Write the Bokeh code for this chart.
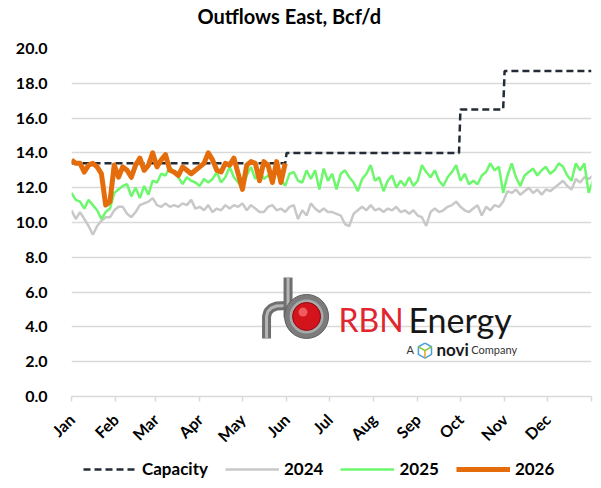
import math

from bokeh.core.properties import value
from bokeh.embed import file_html
from bokeh.layouts import column
from bokeh.models import FixedTicker, Legend, LegendItem, NumeralTickFormatter, Range1d
from bokeh.plotting import figure
from bokeh.resources import INLINE

# ---------------------------------------------------------------- data
month_labels = ["Jan", "Feb", "Mar", "Apr", "May", "Jun",
                "Jul", "Aug", "Sep", "Oct", "Nov", "Dec"]
month_start_day = [0, 31, 59, 90, 120, 151, 181, 212, 243, 273, 304, 334]
year_end_day = 365

# flows are sampled every 3 days from 1 January, Bcf/d
sample_step_days = 3

flow_2024 = [
    10.7, 10.2, 10.6, 10.2, 9.8, 9.3, 9.8, 10.1, 10.3, 10.3,
    10.7, 10.9, 10.9, 10.5, 10.3, 10.6, 11.0, 11.1, 11.2, 11.4,
    11.0, 10.9, 11.1, 10.9, 11.0, 10.9, 11.1, 11.0, 11.3, 10.8,
    10.9, 10.7, 11.0, 10.6, 10.8, 10.7, 11.0, 10.8, 11.0, 10.9,
    11.1, 10.7, 11.0, 10.8, 10.6, 10.6, 10.9, 11.0, 10.7, 10.8,
    10.6, 10.9, 11.0, 10.2, 10.7, 10.4, 11.1, 10.8, 10.6, 10.8,
    10.6, 10.6, 10.5, 10.4, 9.9, 9.8, 10.5, 10.7, 10.9, 10.7,
    11.0, 10.7, 10.8, 10.6, 10.8, 10.7, 10.9, 10.6, 10.7, 10.5,
    10.7, 10.4, 10.3, 9.8, 10.6, 10.8, 10.6, 10.7, 10.9, 11.0,
    11.2, 10.9, 10.7, 10.6, 10.8, 11.0, 10.4, 10.9, 10.7, 11.0,
    10.9, 11.2, 11.8, 11.7, 11.9, 11.6, 11.8, 12.0, 11.7, 11.9,
    11.6, 11.9, 11.8, 12.0, 12.2, 12.4, 12.1, 11.9, 12.5, 12.3,
    12.6, 12.5, 12.7,
]

flow_2025 = [
    11.7, 11.3, 11.2, 10.8, 11.3, 11.0, 10.7, 10.2, 10.6, 10.8,
    11.7, 11.9, 12.1, 12.2, 11.5, 12.0, 11.4, 12.1, 11.6, 12.4,
    12.3, 12.8, 12.7, 13.2, 12.9, 12.6, 12.2, 12.6, 12.4, 12.3,
    12.1, 12.5, 12.3, 12.5, 12.9, 12.3, 12.6, 13.2, 12.6, 12.3,
    12.0, 12.7, 13.2, 12.5, 13.0, 12.5, 12.7, 12.4, 13.0, 12.5,
    12.1, 12.8, 12.9, 12.4, 12.3, 13.0, 12.5, 13.0, 11.9, 13.1,
    12.4, 12.8, 11.9, 12.8, 13.0, 12.6, 12.3, 11.8, 12.5, 12.8,
    13.3, 12.4, 12.6, 11.8, 12.4, 12.7, 12.0, 12.4, 12.1, 12.6,
    12.1, 12.4, 13.3, 12.9, 12.6, 13.0, 12.4, 12.1, 12.6, 12.9,
    13.3, 12.4, 12.8, 12.2, 12.4, 12.2, 12.7, 12.9, 13.4, 13.0,
    13.2, 11.7, 12.7, 13.4, 12.6, 12.1, 12.7, 12.9, 13.1, 12.7,
    13.0, 13.2, 12.8, 13.0, 13.4, 13.2, 12.7, 12.4, 13.4, 13.0,
    13.4, 11.7, 12.4,
]

flow_2026 = [
    13.6, 13.4, 13.4, 12.9, 13.3, 13.4, 13.2, 12.8, 11.0, 11.2,
    13.3, 12.6, 13.2, 13.0, 12.6, 13.3, 13.7, 13.0, 13.3, 14.0,
    13.2, 13.6, 13.9, 13.0, 12.9, 12.7, 13.2, 13.0, 12.8, 13.0,
    13.2, 13.4, 14.0, 13.6, 13.0, 12.9, 13.4, 13.3, 13.7, 12.8,
    11.9, 13.3, 13.5, 13.4, 12.4, 13.5, 13.3, 12.3, 13.5, 12.3,
    13.4,
]

# pipeline capacity: first day of each level and the level, Bcf/d
capacity_change_day = [0, 151, 273, 304]
capacity_bcfd = [13.4, 14.0, 16.5, 18.7]

chart_title = "Outflows East, Bcf/d"

# ---------------------------------------------------------------- helpers
def sample_days(values):
    return [i * sample_step_days for i in range(len(values))]


def capacity_steps():
    xs, ys = [], []
    for i, (start, level) in enumerate(zip(capacity_change_day, capacity_bcfd)):
        end = capacity_change_day[i + 1] - 1 if i + 1 < len(capacity_change_day) else year_end_day
        xs += [start, end]
        ys += [level, level]
    return xs, ys


def strip(height, x_end):
    """An axis-less band of the page used for the heading and the key."""
    f = figure(
        width=601, height=height, output_backend="svg", toolbar_location=None,
        x_range=Range1d(0, x_end), y_range=Range1d(0, 1),
        min_border=0, outline_line_color=None,
    )
    f.axis.visible = False
    f.grid.visible = False
    return f


FONT = "Lato"
GRID = "#d9d9d9"

STYLES = {
    "Capacity": dict(line_color="#222b36", line_width=2.5, line_dash="7 4"),
    "2024": dict(line_color="#c8c8c8", line_width=2.5),
    "2025": dict(line_color="#6cf76c", line_width=2.5),
    "2026": dict(line_color="#e46c0a", line_width=5, line_join="round"),
}

# ---------------------------------------------------------------- heading
head = strip(36, year_end_day)
head.text([88.4], [0.556], text=[chart_title], text_font=value(FONT),
          text_font_size="20px", text_font_style="bold", text_color="#000000",
          text_baseline="alphabetic", text_align="left")

# ---------------------------------------------------------------- chart
p = figure(
    width=601, height=419,
    output_backend="svg", toolbar_location=None,
    x_range=Range1d(0, year_end_day), y_range=Range1d(0, 20),
    min_border_left=71, min_border_right=10,
    min_border_top=12, min_border_bottom=59,
    outline_line_color=None,
)

# y axis
p.yaxis.ticker = FixedTicker(ticks=list(range(0, 21, 2)))
p.yaxis.formatter = NumeralTickFormatter(format="0.0")
p.yaxis.axis_line_color = None
p.yaxis.major_tick_line_color = None
p.yaxis.minor_tick_line_color = None
p.yaxis.major_label_text_font = FONT
p.yaxis.major_label_text_font_style = "bold"
p.yaxis.major_label_text_font_size = "16px"
p.yaxis.major_label_text_color = "#000000"
p.yaxis.major_label_standoff = 18

# x axis (months)
p.xaxis.ticker = FixedTicker(ticks=month_start_day + [year_end_day])
overrides = {d: m for d, m in zip(month_start_day, month_labels)}
overrides[year_end_day] = ""
p.xaxis.major_label_overrides = overrides
p.xaxis.major_label_orientation = math.pi / 4
p.xaxis.axis_line_color = GRID
p.xaxis.axis_line_width = 1.5
p.xaxis.major_tick_line_color = GRID
p.xaxis.major_tick_line_width = 1.5
p.xaxis.major_tick_in = 0
p.xaxis.major_tick_out = 5
p.xaxis.minor_tick_line_color = None
p.xaxis.major_label_text_font = FONT
p.xaxis.major_label_text_font_style = "bold"
p.xaxis.major_label_text_font_size = "16px"
p.xaxis.major_label_text_color = "#000000"
p.xaxis.major_label_standoff = 15

p.xgrid.grid_line_color = None
p.ygrid.grid_line_color = GRID
p.ygrid.grid_line_width = 1.5

# ---------------------------------------------------------------- logo
pipe_r_x = [136.9, 136.9, 137.9, 140.4, 143.9, 152.0]
pipe_r_y = [3.33, 4.60, 4.89, 5.09, 5.20, 5.23]
pipe_b_x = [152.0, 152.0]
pipe_b_y = [6.84, 4.54]
for xs, ys in ((pipe_r_x, pipe_r_y), (pipe_b_x, pipe_b_y)):
    p.line(xs, ys, line_color="#6f6f6f", line_width=9)
    p.line(xs, ys, line_color="#b5b5b5", line_width=3)
p.scatter([165.0], [4.60], marker="circle", size=44, fill_color="#7b7b7b",
          line_color="#5f5f5f", line_width=1)
p.scatter([165.0], [4.60], marker="circle", size=34, fill_color="#a9a9a9",
          line_color=None)
p.scatter([165.0], [4.60], marker="circle", size=28, fill_color="#d3141c",
          line_color="#8c0a0f", line_width=1)
p.scatter([162.5], [4.85], marker="circle", size=9, fill_color="#f05a5f",
          line_color=None)

p.text([187.4], [4.45], text=["RBN"], text_font=value(FONT), text_font_size="32px",
       text_color="#e0262f", text_baseline="alphabetic", text_align="left")
p.text([236.5], [4.45], text=["Energy"], text_font=value(FONT), text_font_size="34px",
       text_color="#161616", text_baseline="alphabetic", text_align="left")
p.text([235.1], [2.72], text=["A"], text_font=value(FONT), text_font_size="11px",
       text_color="#333333", text_baseline="alphabetic", text_align="left")
# small cube mark of the parent company
cube_x = [248.1, 252.7, 252.7, 248.1, 243.5, 243.5, 248.1]
cube_y = [3.07, 2.86, 2.42, 2.21, 2.42, 2.86, 3.07]
p.line(cube_x, cube_y, line_color="#4a9fd8", line_width=1.5)
p.line([248.1, 248.1], [2.21, 2.64], line_color="#f0a020", line_width=1.5)
p.line([243.5, 248.1, 252.7], [2.86, 2.64, 2.86], line_color="#8cc63f", line_width=1.5)
p.text([256.2], [2.72], text=["novi"], text_font=value(FONT), text_font_size="17px",
       text_font_style="bold", text_color="#1a1a1a", text_baseline="alphabetic",
       text_align="left")
p.text([280.6], [2.72], text=["Company"], text_font=value(FONT), text_font_size="11px",
       text_color="#333333", text_baseline="alphabetic", text_align="left")

# ---------------------------------------------------------------- series
p.line(sample_days(flow_2024), flow_2024, **STYLES["2024"])
p.line(sample_days(flow_2025), flow_2025, **STYLES["2025"])
cap_x, cap_y = capacity_steps()
p.line(cap_x, cap_y, **STYLES["Capacity"])
p.line(sample_days(flow_2026), flow_2026, **STYLES["2026"])

# ---------------------------------------------------------------- legend strip
key = strip(33, 1)
items = []
for name in ["Capacity", "2024", "2025", "2026"]:
    # stand-in glyphs kept outside the visible range; they only feed the legend
    r = key.line([-2, -1], [-2, -1], **STYLES[name])
    items.append(LegendItem(label=name, renderers=[r]))

legend = Legend(
    items=items, orientation="horizontal", location=(12, 9),
    glyph_width=54, glyph_height=16, label_standoff=5, spacing=17,
    label_text_font=FONT, label_text_font_style="bold", label_text_font_size="17px",
    label_text_color="#000000",
    border_line_color=None, background_fill_alpha=0, padding=0, margin=0,
)
key.add_layout(legend)

layout = column(head, p, key, spacing=0)
open("out.html", "w").write(file_html(layout, INLINE))
